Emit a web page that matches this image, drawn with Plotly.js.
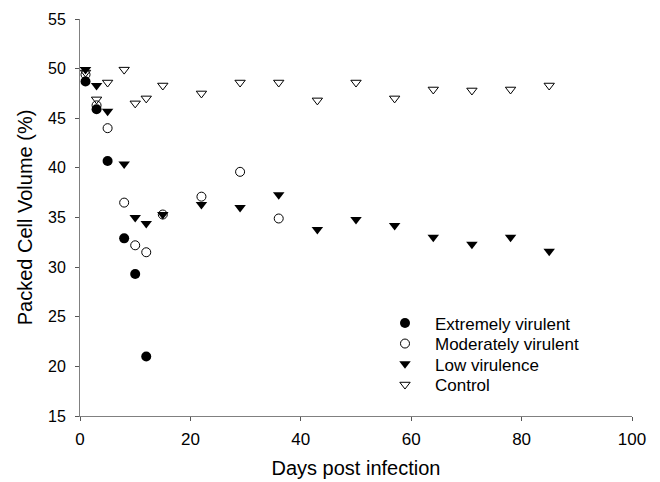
<!DOCTYPE html>
<html>
<head>
<meta charset="utf-8">
<script src="https://cdn.plot.ly/plotly-3.0.1.min.js"></script>
<style>html,body{margin:0;padding:0;background:#fff;}#chart{width:660px;height:482px;}</style>
</head>
<body>
<div id="chart"></div>
<script>
// Days post infection for each group
const daysExtreme = [1, 3, 5, 8, 10, 12];
const pcvExtreme = [48.7, 45.9, 40.7, 32.9, 29.3, 21.0];

const daysModerate = [1, 3, 5, 8, 10, 12, 15, 22, 29, 36];
const pcvModerate = [49.4, 46.3, 44.0, 36.5, 32.2, 31.5, 35.3, 37.1, 39.6, 34.9];

const daysLow = [1, 3, 5, 8, 10, 12, 15, 22, 29, 36, 43, 50, 57, 64, 71, 78, 85];
const pcvLow = [49.9, 48.3, 45.7, 40.4, 35.0, 34.4, 35.3, 36.3, 36.0, 37.3, 33.8, 34.8, 34.2, 33.0, 32.3, 33.0, 31.6];

const daysControl = [1, 3, 5, 8, 10, 12, 15, 22, 29, 36, 43, 50, 57, 64, 71, 78, 85];
const pcvControl = [49.6, 46.9, 48.6, 49.9, 46.5, 47.0, 48.3, 47.5, 48.6, 48.6, 46.8, 48.6, 47.0, 47.9, 47.8, 47.9, 48.3];

const seriesNames = ["Extremely virulent", "Moderately virulent", "Low virulence", "Control"];
const xTickVals = [0, 20, 40, 60, 80, 100];
const yTickVals = [15, 20, 25, 30, 35, 40, 45, 50, 55];

const FONT = "Liberation Sans, Arial, Helvetica, sans-serif";

const traces = [
  {x: daysExtreme, y: pcvExtreme, name: seriesNames[0], type: "scatter", mode: "markers", legend: "legend",
   marker: {symbol: "circle", size: 10, color: "#000"}},
  {x: daysModerate, y: pcvModerate, name: seriesNames[1], type: "scatter", mode: "markers", legend: "legend2",
   marker: {symbol: "circle-open", size: 9, color: "#000", line: {width: 1, color: "#000"}}},
  {x: daysLow, y: pcvLow, name: seriesNames[2], type: "scatter", mode: "markers", legend: "legend3",
   marker: {symbol: "triangle-down", size: 10, color: "#000"}},
  {x: daysControl, y: pcvControl, name: seriesNames[3], type: "scatter", mode: "markers", legend: "legend4",
   marker: {symbol: "triangle-down-open", size: 9, color: "#000", line: {width: 1, color: "#000"}}}
];

function legendAt(yPaper) {
  return {x: 0.5344, xanchor: "left", y: yPaper, yanchor: "middle", itemwidth: 50,
          font: {family: FONT, size: 17, color: "#000"}, bgcolor: "rgba(0,0,0,0)", borderwidth: 0};
}

const layout = {
  width: 660, height: 482,
  margin: {l: 80, r: 28, t: 19, b: 66},
  paper_bgcolor: "#fff", plot_bgcolor: "#fff",
  font: {family: FONT, color: "#000", size: 16},
  showlegend: true,
  legend: legendAt(0.233),
  legend2: legendAt(0.1814),
  legend3: legendAt(0.1302),
  legend4: legendAt(0.0781),
  xaxis: {
    range: [0, 100], tickvals: xTickVals, ticktext: xTickVals.map(String),
    showgrid: false, zeroline: false, showline: true, linecolor: "#808080", linewidth: 1,
    ticks: "outside", ticklen: 4, tickcolor: "#555", tickwidth: 1, ticklabelstandoff: 4,
    tickfont: {family: FONT, size: 17, color: "#000"},
    title: {text: "Days post infection", font: {family: FONT, size: 20, color: "#000"}, standoff: 12}
  },
  yaxis: {
    range: [15, 55], tickvals: yTickVals, ticktext: yTickVals.map(String),
    showgrid: false, zeroline: false, showline: true, linecolor: "#808080", linewidth: 1,
    ticks: "outside", ticklen: 4, tickcolor: "#555", tickwidth: 1, ticklabelstandoff: 6,
    tickfont: {family: FONT, size: 16, color: "#000"},
    title: {text: "Packed Cell Volume (%)", font: {family: FONT, size: 20, color: "#000"}, standoff: 10}
  }
};

Plotly.newPlot("chart", traces, layout, {displayModeBar: false, staticPlot: true});
</script>
</body>
</html>
